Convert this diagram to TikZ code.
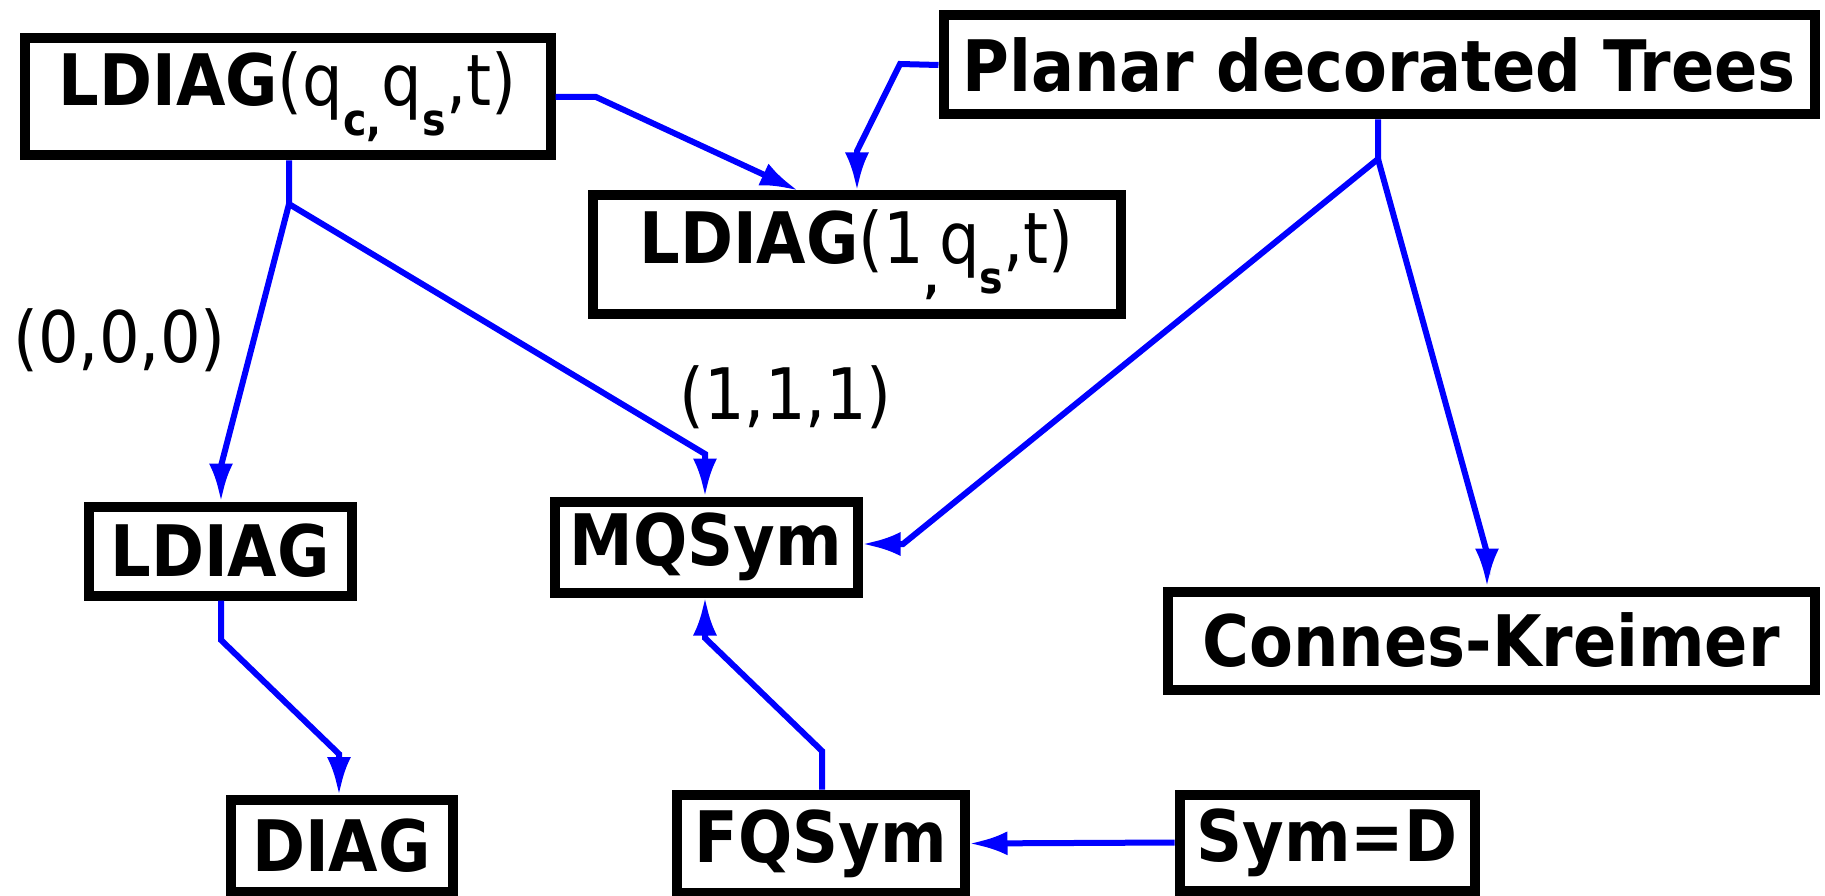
\documentclass[tikz,border=0pt]{standalone}
\usepackage{fontspec}
\setmainfont{DejaVu Sans Condensed}
\usetikzlibrary{arrows.meta}
\newcommand{\lowsub}[1]{\raisebox{-0.42em}{\fontsize{44}{44}\selectfont\bfseries #1}}
\tikzset{
  alg/.style={draw, rectangle, line width=10pt, inner sep=0pt, font=\fontsize{71}{76}\selectfont\bfseries},
  link/.style={draw, blue, line width=6pt, -{Latex[length=38pt,width=24pt]}},
  tag/.style={inner sep=0pt, font=\fontsize{71}{76}\selectfont}
}
\begin{document}
\begin{tikzpicture}[x=1pt,y=-1pt]
\useasboundingbox (0,0) rectangle (1825,896);
\node[alg, minimum width=526pt, minimum height=117pt] (ldq) at (287.5,97) {LDIAG{\mdseries(q\lowsub{c,}q\lowsub{s},t)}};
\node[alg, minimum width=528pt, minimum height=118pt] (ldone) at (856.5,254.5) {LDIAG{\mdseries(1\lowsub{,}q\lowsub{s},t)}};
\node[alg, minimum width=871pt, minimum height=99pt] (pdt) at (1379,65) {Planar decorated Trees};
\node[alg, minimum width=263pt, minimum height=89pt] (ld) at (220,551) {LDIAG};
\node[alg, minimum width=303pt, minimum height=91pt] (mq) at (706,547) {MQSym};
\node[alg, minimum width=647pt, minimum height=98pt] (ck) at (1491,640.5) {Connes-Kreimer};
\node[alg, minimum width=222pt, minimum height=92pt] (dg) at (341.5,846) {DIAG};
\node[alg, minimum width=288pt, minimum height=98pt] (fq) at (820.5,843.5) {FQSym};
\node[alg, minimum width=295pt, minimum height=96pt] (sd) at (1327,842.5) {Sym=D};

\node[tag] (zero) at (119.5,340) {(0,0,0)};
\node[tag] (one) at (785.5,397) {(1,1,1)};

% branch points and bends
\coordinate (s1) at (289,204);
\coordinate (s2) at (1378,159);
\coordinate (a1) at (221,466);
\coordinate (b1) at (705,454);
\coordinate (c1) at (596,97);
\coordinate (c2) at (798,0);
\coordinate (d1) at (900,64);
\coordinate (d2) at (857,151);
\coordinate (e1) at (903,544);
\coordinate (f1) at (1487,553);
\coordinate (g1) at (221,640);
\coordinate (g2) at (339,754);
\coordinate (h1) at (822,751);
\coordinate (h2) at (705,638);

\path[link] (ldq.south -| s1) -- (s1) -- (a1) -- (a1 |- ld.north);
\path[link] (s1) -- (b1) -- (b1 |- mq.north);
\path[link] (ldq.east) -- (c1) -- (c2 |- ldone.north);
\path[link] (pdt.west) -- (d1) -- (d2) -- (d2 |- ldone.north);
\path[link] (pdt.south -| s2) -- (s2) -- (e1) -- (e1 -| mq.east);
\path[link] (s2) -- (f1) -- (f1 |- ck.north);
\path[link] (ld.south -| g1) -- (g1) -- (g2) -- (g2 |- dg.north);
\path[link] (fq.north -| h1) -- (h1) -- (h2) -- (h2 |- mq.south);
\path[link] (sd.west) -- (fq.east);
\end{tikzpicture}
\end{document}
